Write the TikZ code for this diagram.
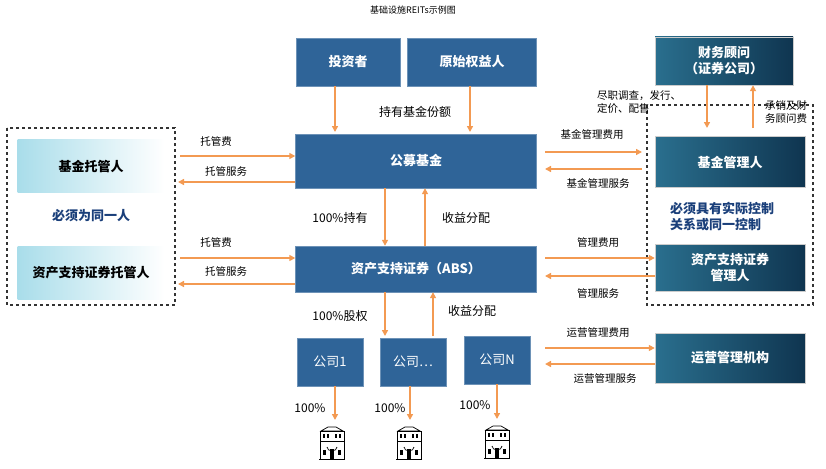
\documentclass[tikz,border=0pt]{standalone}
\usepackage{fontspec}
\setmainfont{Noto Sans CJK SC}
\usetikzlibrary{arrows.meta}
\definecolor{mblue}{HTML}{2F6498}
\definecolor{dk1}{HTML}{2A6F8E}
\definecolor{dk2}{HTML}{0F3550}
\definecolor{lc}{HTML}{A9DDEA}
\definecolor{org}{HTML}{F39A52}
\definecolor{navy}{HTML}{1A3F7A}
\tikzset{
 bx/.style={fill=mblue,draw=mblue!70!white,text=white,font=\fontsize{13}{15}\selectfont\bfseries,inner sep=0pt,align=center},
 dbx/.style={left color=dk1,right color=dk2,draw=gray!40,text=white,font=\fontsize{13}{16}\selectfont\bfseries,inner sep=0pt,align=center},
 lbx/.style={left color=lc,right color=white,draw=none,text=black,font=\fontsize{13}{15}\selectfont\bfseries,inner sep=0pt},
 ar/.style={draw=org,line width=1.6pt,-{Triangle[length=6pt,width=6pt]}},
 lb/.style={font=\fontsize{10.5}{13}\selectfont,inner sep=0pt,align=left},
 lbb/.style={font=\fontsize{12}{14}\selectfont,inner sep=0pt},
 dsh/.style={draw=black!80,dashed,line width=1.3pt},
 pic/.style={}
}
\newcommand\bldg[1]{%
 \begin{scope}[shift={#1},x=1pt,y=-1pt,line width=0.7pt]
 \draw (-11,-12) -- (-4,-16) -- (4,-16) -- (11,-12) -- cycle;
 \draw (-12,-12) rectangle (12,16);
 \draw (-12,-2) -- (12,-2);
 \foreach \xx in {-9,-5,3,7} \fill (\xx,-9) rectangle ++(2,4);
 \draw (-5,4) arc (180:0:5 and 4);
 \fill (-9,7) rectangle ++(3,5); \fill (6,7) rectangle ++(3,5);
 \fill (-2,6) rectangle ++(4,10);
 \draw (-13,16) -- (13,16);
 \end{scope}}
\begin{document}
\begin{tikzpicture}[x=1pt,y=-1pt]
\useasboundingbox (0,0) rectangle (826,468);
\node[font=\fontsize{9}{10}\selectfont] (title) at (413,10) {基础设施REITs示例图};
% dashed boxes
\draw[dsh] (7,128) rectangle (175,305);
\draw[dsh] (647,105) rectangle (813,305);
% top boxes
\node[bx,minimum width=104pt,minimum height=48pt] (inv) at (348,62) {投资者};
\node[bx,minimum width=129pt,minimum height=48pt] (orig) at (472,62) {原始权益人};
\node[dbx,minimum width=138pt,minimum height=48pt] (fa) at (724,61) {财务顾问\\（证券公司）};
\node[bx,minimum width=241pt,minimum height=54pt] (pf) at (416,161) {公募基金};
\node[bx,minimum width=241pt,minimum height=46pt] (abs) at (416,269) {资产支持证券（ABS）};
\node[lbx,minimum width=147pt,minimum height=53pt] (tg1) at (91,166) {基金托管人};
\node[lbx,minimum width=147pt,minimum height=53pt] (tg2) at (91,273) {资产支持证券托管人};
\node[font=\fontsize{13}{15}\selectfont\bfseries,text=navy] (same1) at (91,216) {必须为同一人};
\node[dbx,minimum width=150pt,minimum height=51pt] (gm) at (730,162) {基金管理人};
\node[dbx,minimum width=150pt,minimum height=47pt] (am) at (730,268) {资产支持证券\\管理人};
\node[font=\fontsize{13}{16}\selectfont\bfseries,text=navy,align=left] (same2) at (722,217) {必须具有实际控制\\关系或同一控制};
\node[dbx,minimum width=150pt,minimum height=50pt] (op) at (730,358) {运营管理机构};
\node[bx,minimum width=66pt,minimum height=48pt,font=\fontsize{13}{15}\selectfont] (c1) at (330,362) {公司1};
\node[bx,minimum width=66pt,minimum height=48pt,font=\fontsize{13}{15}\selectfont] (c2) at (413,362) {公司…};
\node[bx,minimum width=66pt,minimum height=48pt,font=\fontsize{13}{15}\selectfont] (c3) at (497,360) {公司N};
% top arrows
\draw[ar] (inv.south -| 335,0) -- (335,132);
\draw[ar] (orig.south -| 470,0) -- (470,132);
\node[lbb] (l1) at (415,112) {持有基金份额};
% fin advisor
\draw[ar] (fa.south -| 707,0) -- (707,128);
\draw[ar] (753,128) -- (fa.south -| 753,0);
\node[lb,anchor=west] (l2) at (597,102) {尽职调查，发行、\\定价、配售};
\node[lb] (l3) at (786,112) {承销及财\\务顾问费};
% left arrows
\draw[ar] (180,156) -- (pf.west |- 0,156);
\draw[ar] (pf.west |- 0,182) -- (178,182);
\node[lb] (l4) at (216,141) {托管费};
\node[lb] (l5) at (226,171) {托管服务};
\draw[ar] (180,258) -- (abs.west |- 0,258);
\draw[ar] (abs.west |- 0,284) -- (178,284);
\node[lb] (l6) at (216,242) {托管费};
\node[lb] (l7) at (226,271) {托管服务};
% right arrows
\draw[ar] (545,152) -- (642,152);
\draw[ar] (642,169) -- (545,169);
\node[lb] (l8) at (592,134) {基金管理费用};
\node[lb] (l9) at (598,183) {基金管理服务};
\draw[ar] (545,258) -- (am.west |- 0,258);
\draw[ar] (am.west |- 0,276) -- (545,276);
\node[lb] (l10) at (598,243) {管理费用};
\node[lb] (l11) at (598,293) {管理服务};
\draw[ar] (545,348) -- (op.west |- 0,348);
\draw[ar] (op.west |- 0,364) -- (545,364);
\node[lb] (l12) at (598,333) {运营管理费用};
\node[lb] (l13) at (605,379) {运营管理服务};
% middle
\draw[ar] (pf.south -| 385,0) -- (abs.north -| 385,0);
\draw[ar] (abs.north -| 425,0) -- (pf.south -| 425,0);
\node[lbb] (l14) at (340,218) {100\%持有};
\node[lbb] (l15) at (466,218) {收益分配};
\draw[ar] (abs.south -| 385,0) -- (385,336);
\draw[ar] (433,336) -- (abs.south -| 433,0);
\node[lbb] (l16) at (340,316) {100\%股权};
\node[lbb] (l17) at (472,311) {收益分配};
% companies
\draw[ar] (c1.south -| 335,0) -- (335,420);
\draw[ar] (c2.south -| 410,0) -- (410,420);
\draw[ar] (c3.south -| 497,0) -- (497,419);
\node[lbb] (p1) at (310,408) {100\%};
\node[lbb] (p2) at (390,408) {100\%};
\node[lbb] (p3) at (475,405) {100\%};
\bldg{(332,443)}
\bldg{(409,443)}
\bldg{(497,442)}
\end{tikzpicture}
\end{document}
